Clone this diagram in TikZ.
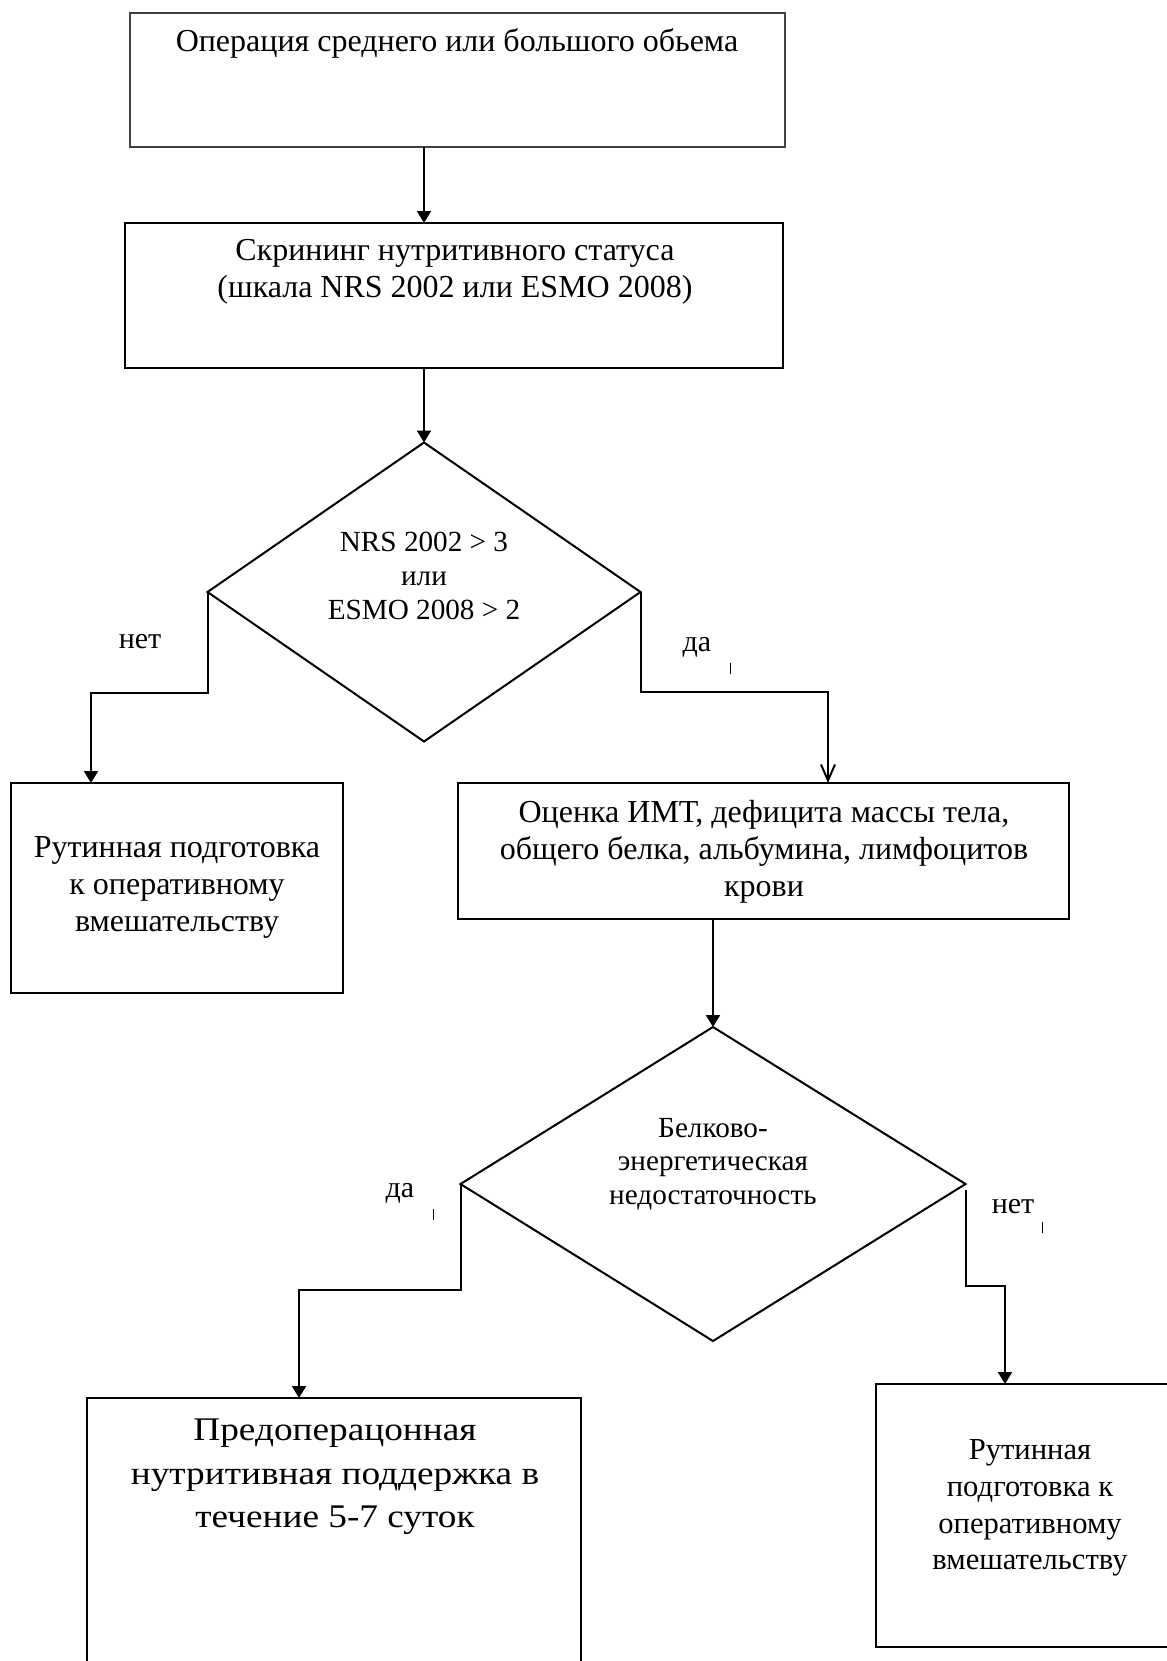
\documentclass[tikz,border=0pt]{standalone}
\usepackage{fontspec}
\setmainfont{Liberation Serif}
\newfontfamily\widefont[FakeStretch=1.13]{Liberation Serif}
\usetikzlibrary{arrows.meta,shapes.geometric,fit}

\begin{document}
\begin{tikzpicture}[x=0.5pt, y=-0.5pt,
    box/.style={draw, line width=1pt, inner sep=0pt, outer sep=0pt},
    dia/.style={draw, diamond, line width=1pt, inner sep=0pt, outer sep=0pt},
    txt/.style={align=center, inner sep=0pt, font=\fontsize{16pt}{18.5pt}\selectfont},
    dtxt/.style={align=center, inner sep=0pt, font=\fontsize{14.6pt}{16.8pt}\selectfont},
    lbl/.style={inner sep=0pt, font=\fontsize{15pt}{18pt}\selectfont},
    arr/.style={-{Triangle[length=6pt,width=7pt]}, line width=1pt},
    openarr/.style={-{Straight Barb[length=8pt,width=7pt]}, line width=1pt},
    tick/.style={line width=0.5pt}]
    \useasboundingbox (0,0) rectangle (1167,1661);

    % boxes and decisions
    \node[box, draw=black!75, line width=0.6pt, fit={(130,13) (785,147)}] (oper) {};
    \node[txt] (operT) at (457,43) {Операция среднего или большого обьема};
    \node[box, fit={(125,223) (783,368)}] (scr) {};
    \node[txt] (scrT) at (455,272) {Скрининг нутритивного статуса\\(шкала NRS 2002 или ESMO 2008)};
    \node[dia, minimum width=216.5pt, minimum height=149.5pt] (d1) at (424,592) {};
    \node[dtxt] (d1T) at (424,576) {NRS 2002 > 3\\или\\ESMO 2008 > 2};
    \node[box, fit={(11,783) (343,993)}] (rout1) {};
    \node[txt] (rout1T) at (177,887) {Рутинная подготовка\\к оперативному\\вмешательству};
    \node[box, fit={(458,783) (1069,919)}] (est) {};
    \node[txt] (estT) at (764,852) {Оценка ИМТ, дефицита массы тела,\\общего белка, альбумина, лимфоцитов\\крови};
    \node[dia, minimum width=252.5pt, minimum height=157pt] (d2) at (713,1184) {};
    \node[dtxt] (d2T) at (713,1164) {Белково-\\энергетическая\\недостаточность};
    \node[box, fit={(87,1398) (581,1700)}] (pre) {};
    \node[txt, font=\widefont\fontsize{16.5pt}{21.75pt}\selectfont] (preT) at (335,1477)
        {Предоперацонная\\нутритивная поддержка в\\течение 5-7 суток};
    \node[box, fit={(876,1384) (1200,1647)}] (rout2) {};
    \node[txt, font=\fontsize{15.3pt}{18.35pt}\selectfont] (rout2T) at (1030,1508)
        {Рутинная\\подготовка к\\оперативному\\вмешательству};

    % branch labels
    \node[lbl] (no1) at (140,642) {нет};
    \node[lbl] (yes1) at (697,647) {да};
    \node[lbl] (yes2) at (400,1193) {да};
    \node[lbl] (no2) at (1013,1207) {нет};
    \draw[tick] (730,663) -- (730,674);
    \draw[tick] (433,1209) -- (433,1220);
    \draw[tick] (1042,1222) -- (1042,1233);

    % connectors
    \coordinate (k1) at (91,693);
    \coordinate (k2) at (828,692);
    \coordinate (k3) at (299,1290);
    \coordinate (k4) at (1005,1286);
    \draw[arr] (oper.south -| d1.north) -- (scr.north -| d1.north);
    \draw[arr] (scr.south -| d1.north) -- (d1.north);
    \draw[arr] (d1.west) |- (k1) -- (k1 |- rout1.north);
    \draw[openarr] (d1.east) |- (k2) -- (k2 |- est.north);
    \draw[arr] (est.south -| d2.north) -- (d2.north);
    \draw[arr] (d2.west) |- (k3) -- (k3 |- pre.north);
    \draw[arr] ([yshift=-3pt]d2.east) |- (k4) -- (k4 |- rout2.north);
\end{tikzpicture}
\end{document}
